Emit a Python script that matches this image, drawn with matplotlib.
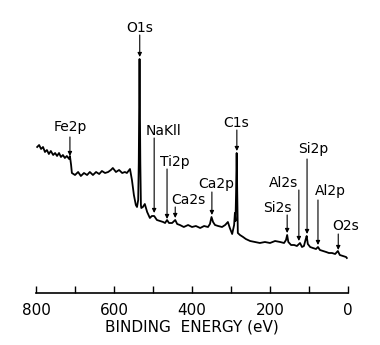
import matplotlib
matplotlib.use('Agg')
import matplotlib.pyplot as plt

# survey spectrum: binding energy (eV) vs intensity (arb. units)
binding_energy = [797, 792, 787, 782, 777, 772, 767, 762, 756, 751,
                  746, 741, 736, 731, 726, 721, 715, 713, 710, 708,
                  700, 692, 685, 677, 669, 662, 654, 646, 638, 631,
                  623, 615, 608, 603, 595, 587, 579, 572, 567, 559,
                  554, 549, 544, 541, 538, 536.5, 534.5, 532.5, 531, 530,
                  526, 521, 515, 508, 503, 497, 490, 482, 474, 469,
                  464, 459, 451, 443, 438, 431, 421, 410, 400, 390,
                  379, 369, 359, 354, 350, 346, 341, 333, 323, 315,
                  308, 303, 297, 292, 290, 288.5, 287, 285.5, 284, 282.5,
                  277, 269, 262, 251, 238, 226, 213, 200, 187, 174,
                  164, 159, 156, 153, 146, 138, 131, 123, 118, 113,
                  109, 106, 103, 97, 90, 82, 77, 72, 64, 56,
                  49, 41, 33, 26, 21, 13, 5, 3]
intensity = [146, 148, 144, 146, 141, 143, 139, 142, 138, 140,
             137, 140, 136, 138, 135, 137, 134, 137, 128, 120,
             118, 121, 117, 120, 118, 121, 118, 121, 119, 122,
             120, 121, 123, 125, 121, 123, 120, 121, 120, 124,
             113, 98, 88, 86, 93, 130, 234, 130, 88, 85,
             86, 89, 81, 75, 77, 77, 73, 72, 71, 70,
             73, 70, 70, 73, 69, 68, 66, 68, 66, 67,
             65, 67, 66, 69, 76, 71, 68, 67, 66, 68,
             71, 65, 59, 68, 80, 72, 100, 140, 100, 60,
             58, 56, 54, 52, 51, 50, 51, 50, 52, 51,
             50, 53, 58, 51, 48, 48, 47, 50, 46, 47,
             53, 57, 49, 46, 45, 44, 46, 43, 42, 41,
             40, 40, 39, 42, 38, 37, 36, 35]

# peak labels with arrows
labels = ['O1s', 'Fe2p', 'NaKll', 'Ti2p', 'Ca2s', 'Ca2p',
          'C1s', 'Si2s', 'Al2s', 'Si2p', 'Al2p', 'O2s']
peak_be = [534, 713, 497, 464, 443, 349, 285, 156, 126, 105, 77, 25]
arrow_top = [258, 156, 155, 124, 86, 101, 163, 78, 103, 134, 93, 59]
arrow_tip = [236, 137, 80, 74, 75, 78, 142, 60, 52, 59, 48, 43]
label_be = [534, 713, 474, 445, 410, 338, 287, 182, 165, 90, 46, 5]
label_y = [261, 162, 158, 127, 89, 105, 166, 81, 106, 140, 98, 63]

fig = plt.figure(figsize=(3.8, 3.45), dpi=100)
ax = fig.add_axes([36 / 380, 52 / 345, 312 / 380, 273 / 345])

ax.plot(binding_energy, intensity, color='black', lw=1.3)

for lab, be, y0, y1, tx, ty in zip(labels, peak_be, arrow_top, arrow_tip, label_be, label_y):
    ax.annotate('', xy=(be, y1), xytext=(be, y0),
                arrowprops=dict(arrowstyle='-|>', color='black', lw=0.8,
                                mutation_scale=6, shrinkA=0, shrinkB=0))
    ax.text(tx, ty, lab, ha='center', va='baseline', fontsize=10)

ax.set_xlim(800, 0)
ax.set_ylim(0, 273)
ax.set_xticks([800, 600, 400, 200, 0])
ax.set_xticks([700, 500, 300, 100], minor=True)
ax.tick_params(axis='x', which='both', direction='in', length=5, width=1, labelsize=11, pad=7.5)
ax.set_yticks([])
for s in ['left', 'right', 'top']:
    ax.spines[s].set_visible(False)
ax.spines['bottom'].set_linewidth(1.2)
ax.set_xlabel('BINDING  ENERGY (eV)', fontsize=11, labelpad=1)
ax.patch.set_alpha(0)

fig.savefig('out.png', dpi=100)
